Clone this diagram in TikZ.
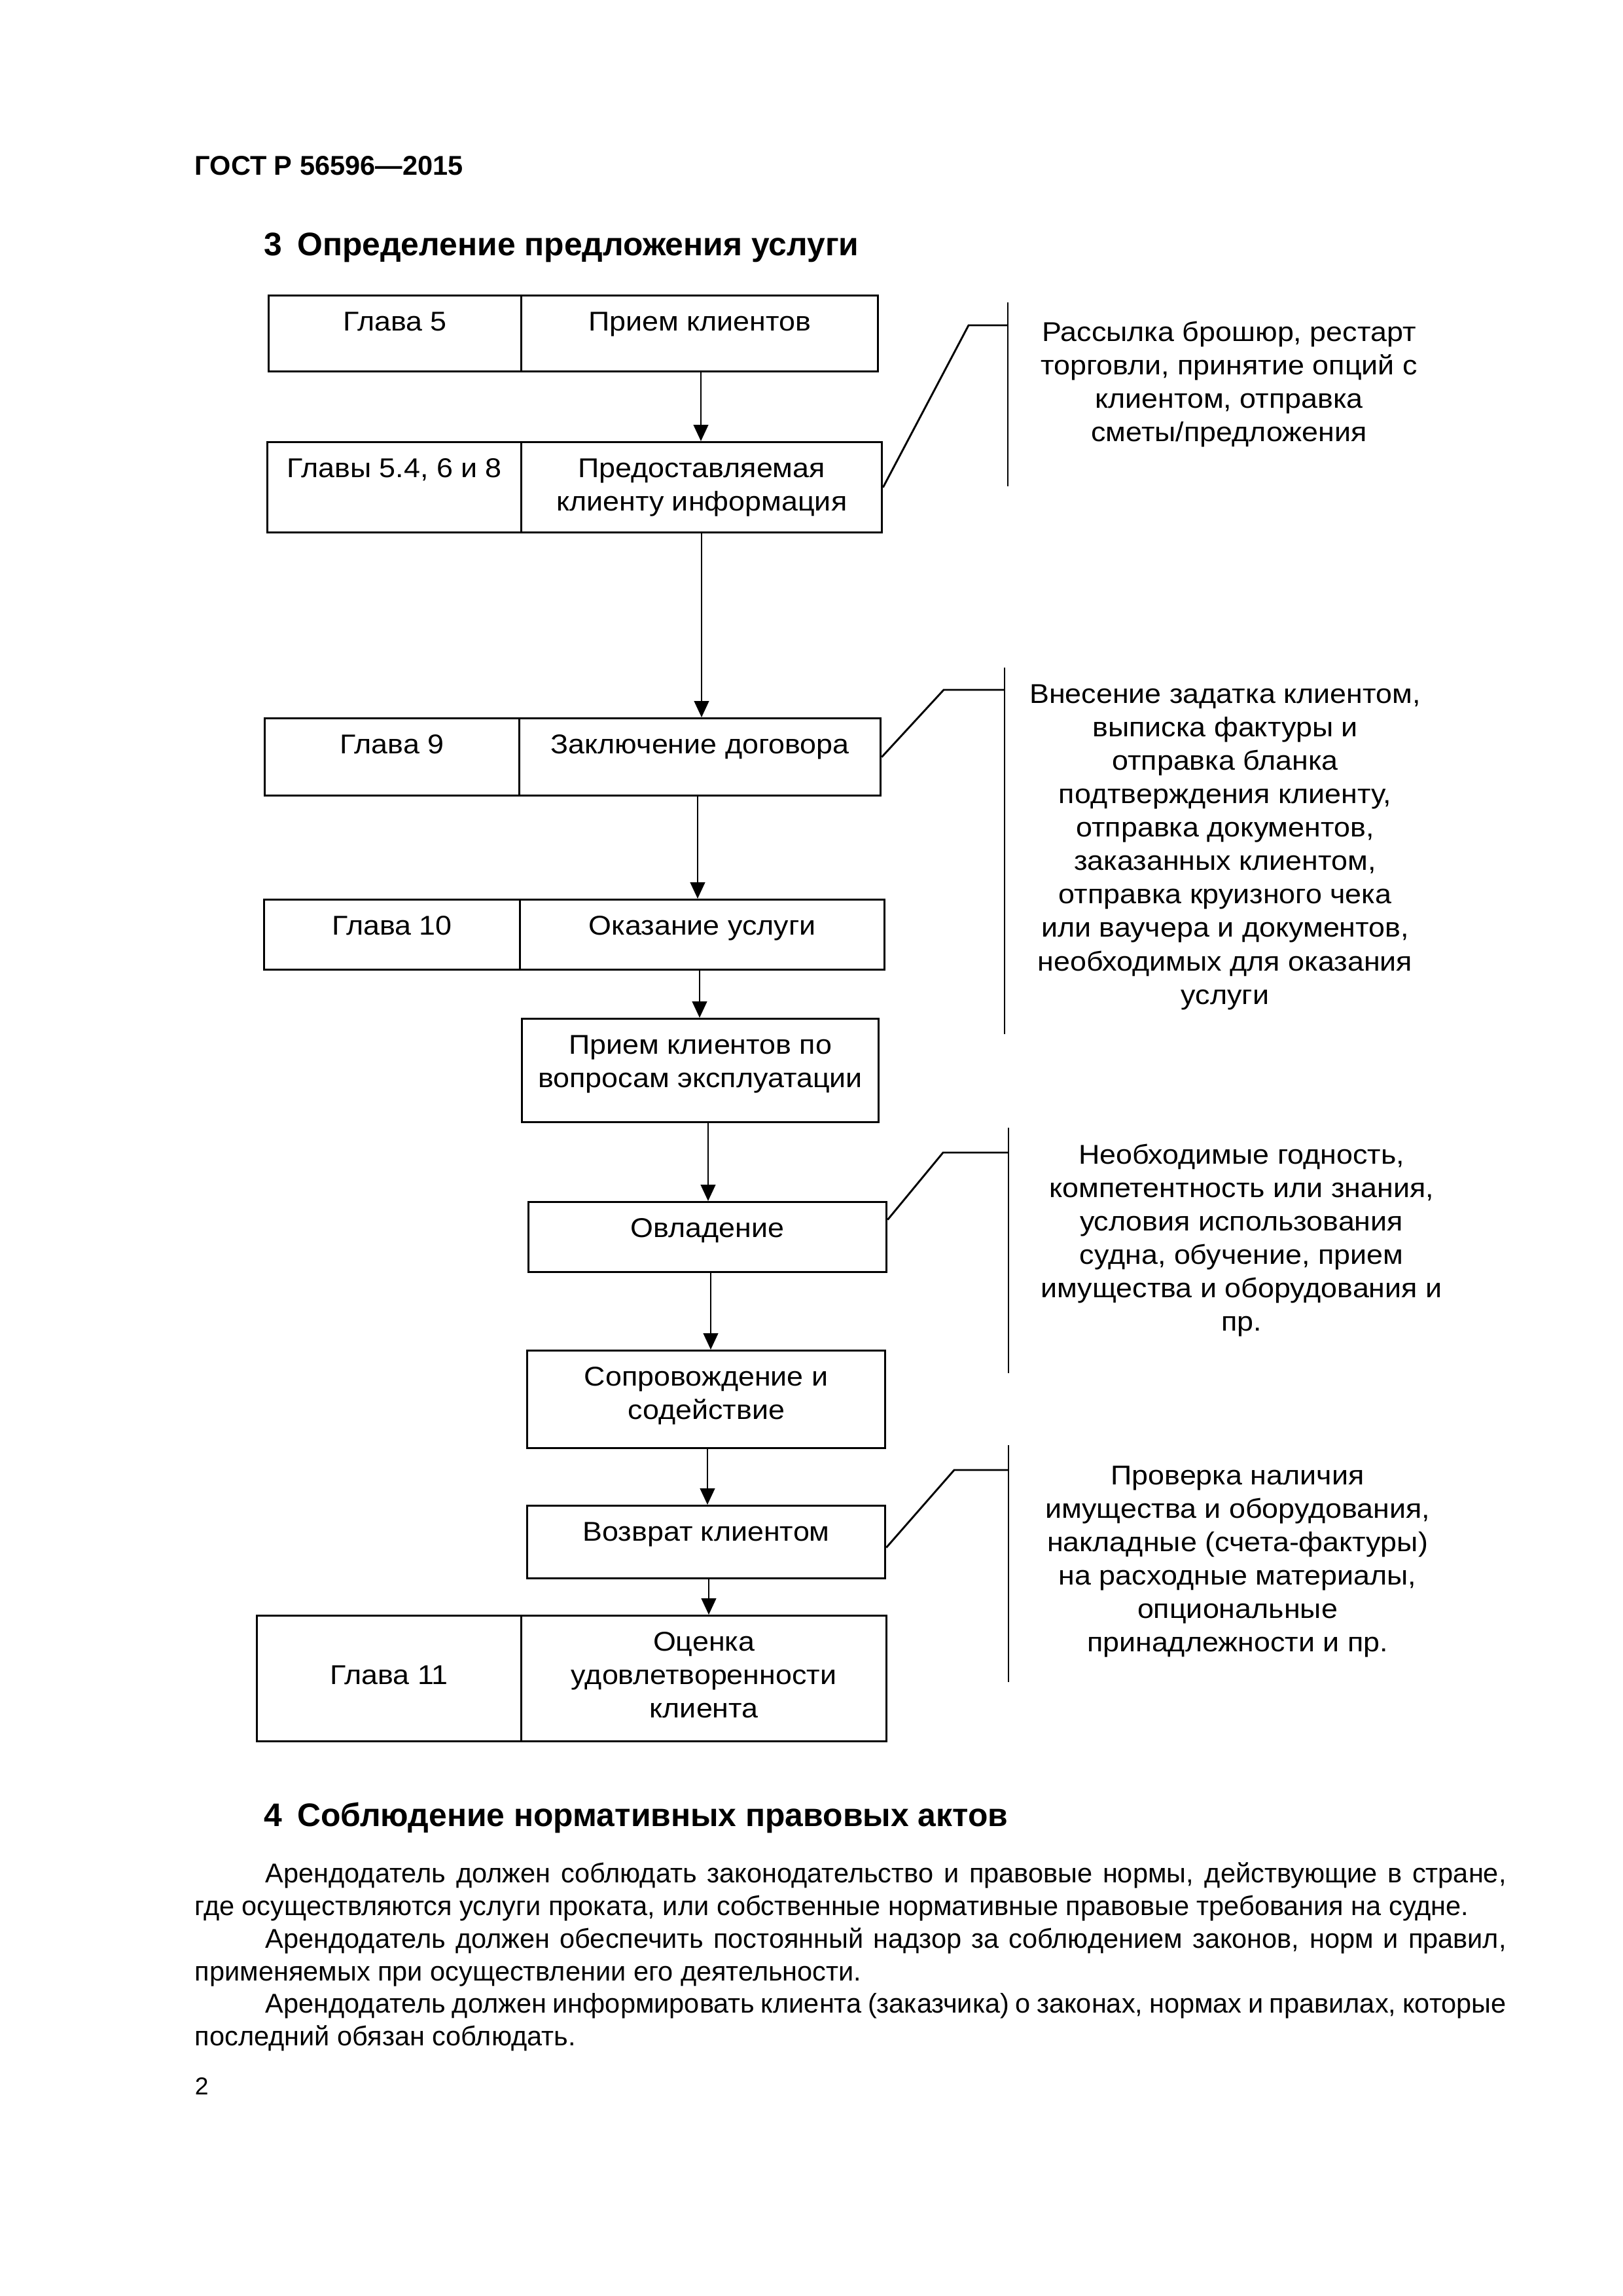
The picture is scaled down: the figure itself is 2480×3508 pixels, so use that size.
\documentclass[tikz,border=0pt]{standalone}
\usepackage{fontspec}
\setmainfont{Liberation Sans}
\newfontfamily\dfam[FakeStretch=1.08]{Liberation Sans}
\usetikzlibrary{arrows.meta}
\def\pxu{0.2409pt}
\newcommand\dfont{\dfam\fontsize{10pt}{12.3pt}\selectfont}
\newcommand\bodyfont{\fontsize{10pt}{12pt}\selectfont\hyphenpenalty=10000\exhyphenpenalty=10000}
\begin{document}
\begin{tikzpicture}[x=0.2409pt,y=-0.2409pt,
  cell/.style={draw,line width=0.8pt,inner sep=0pt,anchor=north west},
  wh/.style 2 args={minimum width=#1*\pxu,minimum height=#2*\pxu},
  lab/.style={font=\dfont,inner sep=0pt,align=center,anchor=north},
  arr/.style={line width=0.7pt,-{Triangle[length=6pt,width=5.4pt]}},
  lead/.style={line width=0.7pt},
  vrule/.style={line width=0.5pt},
  body/.style={font=\bodyfont,text width=482.8pt,align=justify,inner sep=0pt,anchor=north west},
  head/.style={inner sep=0pt,anchor=base west}]
\useasboundingbox (0,0) rectangle (2480,3508);

% page header and heading
\node[head,font=\bfseries\fontsize{10pt}{12pt}\selectfont] (hdr) at (297,267) {ГОСТ Р 56596—2015};
\node[head,font=\bfseries\fontsize{12pt}{14pt}\selectfont] (h3) at (403,390) {3\hspace{5.5pt}Определение предложения услуги};

% boxes
\node[cell,wh={386}{116}] (b1l) at (409,450) {};
\node[cell,wh={545}{116}] (b1r) at (795,450) {};
\node[cell,wh={388}{138}] (b2l) at (407,674) {};
\node[cell,wh={551}{138}] (b2r) at (795,674) {};
\node[cell,wh={389}{118}] (b3l) at (403,1096) {};
\node[cell,wh={552}{118}] (b3r) at (792,1096) {};
\node[cell,wh={391}{107}] (b4l) at (402,1373) {};
\node[cell,wh={557}{107}] (b4r) at (793,1373) {};
\node[cell,wh={545}{158}] (b5) at (796,1555) {};
\node[cell,wh={547}{107}] (b6) at (806,1835) {};
\node[cell,wh={547}{149}] (b7) at (804,2062) {};
\node[cell,wh={547}{111}] (b8) at (804,2299) {};
\node[cell,wh={404}{192}] (b9l) at (391,2467) {};
\node[cell,wh={558}{192}] (b9r) at (795,2467) {};

% box texts
\node[lab] (t1l) at ([yshift=-4.6pt]b1l.north) {\strut Глава 5};
\node[lab] (t1r) at ([yshift=-4.6pt]b1r.north) {\strut Прием клиентов};
\node[lab] (t2l) at ([yshift=-4.6pt]b2l.north) {\strut Главы 5.4, 6 и 8};
\node[lab] (t2r) at ([yshift=-4.6pt]b2r.north) {\strut Предоставляемая\\клиенту информация};
\node[lab] (t3l) at ([yshift=-4.6pt]b3l.north) {\strut Глава 9};
\node[lab] (t3r) at ([yshift=-4.6pt]b3r.north) {\strut Заключение договора};
\node[lab] (t4l) at ([yshift=-4.6pt]b4l.north) {\strut Глава 10};
\node[lab] (t4r) at ([yshift=-4.6pt]b4r.north) {\strut Оказание услуги};
\node[lab] (t5) at ([yshift=-4.6pt]b5.north) {\strut Прием клиентов по\\вопросам эксплуатации};
\node[lab] (t6) at ([yshift=-4.6pt]b6.north) {\strut Овладение};
\node[lab] (t7) at ([yshift=-4.6pt]b7.north) {\strut Сопровождение и\\содействие};
\node[lab] (t8) at ([yshift=-4.6pt]b8.north) {\strut Возврат клиентом};
\node[lab] (t9l) at ([yshift=-16.9pt]b9l.north) {\strut Глава 11};
\node[lab] (t9r) at ([yshift=-4.6pt]b9r.north) {\strut Оценка\\удовлетворенности\\клиента};

% arrows
\coordinate (a1) at (1071,0);
\coordinate (a2) at (1072,0);
\coordinate (a3) at (1066,0);
\coordinate (a4) at (1069,0);
\coordinate (a5) at (1082,0);
\coordinate (a6) at (1086,0);
\coordinate (a7) at (1081,0);
\coordinate (a8) at (1083,0);
\draw[arr] (b1r.south -| a1) -- (b2r.north -| a1);
\draw[arr] (b2r.south -| a2) -- (b3r.north -| a2);
\draw[arr] (b3r.south -| a3) -- (b4r.north -| a3);
\draw[arr] (b4r.south -| a4) -- (b5.north -| a4);
\draw[arr] (b5.south -| a5) -- (b6.north -| a5);
\draw[arr] (b6.south -| a6) -- (b7.north -| a6);
\draw[arr] (b7.south -| a7) -- (b8.north -| a7);
\draw[arr] (b8.south -| a8) -- (b9r.north -| a8);

% callout 1
\coordinate (c1k) at (1480,497);
\coordinate (c1j) at (1540,497);
\coordinate (c1t) at (1540,462);
\coordinate (c1b) at (1540,743);
\draw[lead] (b2r.east) -- (c1k) -- (c1j);
\draw[vrule] (c1t) -- (c1b);
\node[lab] (n1) at (1878,485) {\strut Рассылка брошюр, рестарт\\торговли, принятие опций с\\клиентом, отправка\\сметы/предложения};

% callout 2
\coordinate (c2k) at (1442,1054);
\coordinate (c2j) at (1535,1054);
\coordinate (c2t) at (1535,1020);
\coordinate (c2b) at (1535,1580);
\draw[lead] (b3r.east) -- (c2k) -- (c2j);
\draw[vrule] (c2t) -- (c2b);
\node[lab] (n2) at (1872,1038) {\strut Внесение задатка клиентом,\\выписка фактуры и\\отправка бланка\\подтверждения клиенту,\\отправка документов,\\заказанных клиентом,\\отправка круизного чека\\или ваучера и документов,\\необходимых для оказания\\услуги};

% callout 3
\coordinate (c3k) at (1441,1761);
\coordinate (c3j) at (1541,1761);
\coordinate (c3t) at (1541,1723);
\coordinate (c3b) at (1541,2098);
\draw[lead] ([yshift=6.4pt]b6.east) -- (c3k) -- (c3j);
\draw[vrule] (c3t) -- (c3b);
\node[lab] (n3) at (1897,1742) {\strut Необходимые годность,\\компетентность или знания,\\условия использования\\судна, обучение, прием\\имущества и оборудования и\\пр.};

% callout 4
\coordinate (c4k) at (1458,2246);
\coordinate (c4j) at (1541,2246);
\coordinate (c4t) at (1541,2208);
\coordinate (c4b) at (1541,2570);
\draw[lead] ([yshift=-2pt]b8.east) -- (c4k) -- (c4j);
\draw[vrule] (c4t) -- (c4b);
\node[lab] (n4) at (1891,2232) {\strut Проверка наличия\\имущества и оборудования,\\накладные (счета-фактуры)\\на расходные материалы,\\опциональные\\принадлежности и пр.};

% section 4
\node[head,font=\bfseries\fontsize{12pt}{14pt}\selectfont] (h4) at (403,2790) {4\hspace{5.5pt}Соблюдение нормативных правовых актов};
\node[body] (p1) at (297,2841) {\strut\hspace*{26pt}Арендодатель должен соблюдать законодательство и правовые нормы, действующие в~стране,\linebreak где осуществляются услуги проката, или собственные нормативные правовые требования на судне.};
\node[body] (p2) at (297,2941) {\strut\hspace*{26pt}Арендодатель должен обеспечить постоянный надзор за соблюдением законов, норм и~правил,\linebreak применяемых при осуществлении его деятельности.};
\node[body] (p3) at (297,3040) {\strut\hspace*{26pt}Арендодатель должен информировать клиента (заказчика) о законах, нормах и~правилах, которые\linebreak последний обязан соблюдать.};
\node[head,font=\fontsize{9pt}{11pt}\selectfont] (pg) at (297,3200) {2};
\end{tikzpicture}
\end{document}
